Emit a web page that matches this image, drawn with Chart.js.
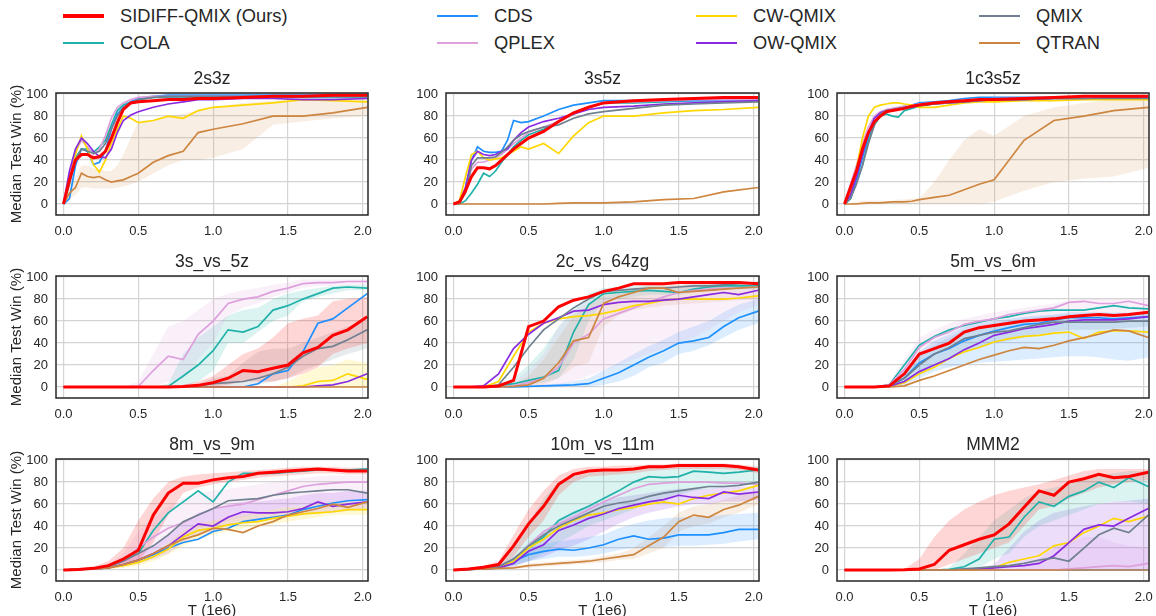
<!DOCTYPE html>
<html>
<head>
<meta charset="utf-8">
<title>Median Test Win</title>
<script src="https://cdn.jsdelivr.net/npm/chart.js@4.4.1/dist/chart.umd.min.js"></script>
<style>
  html, body { margin: 0; padding: 0; overflow: hidden; background: #fff; }
  body { width: 1156px; height: 616px; position: relative; font-family: "Liberation Sans", Arial, sans-serif; color: #262626; }
  canvas { position: absolute; }
  .swatch { position: absolute; width: 41px; }
  .name { position: absolute; font-size: 18.3px; line-height: 22px; white-space: nowrap; }
</style>
</head>
<body>
<div id="legend"></div>
<div id="plots"></div>
<script>
/* SERIES AND AXES */
const seriesNames = ["SIDIFF-QMIX (Ours)", "COLA", "CDS", "QPLEX", "CW-QMIX", "OW-QMIX", "QMIX", "QTRAN"];
const seriesColors = ["#ff0000", "#20b2aa", "#1e90ff", "#dda0dd", "#ffd700", "#8a2be2", "#708090", "#cd853f"];
const xTicks = [0, 0.5, 1, 1.5, 2];
const yTicks = [0, 20, 40, 60, 80, 100];
// timesteps (1e6) for the top row and for the two lower rows
const tFast = [0, 0.04, 0.08, 0.12, 0.16, 0.2, 0.24, 0.28, 0.32, 0.36, 0.4, 0.45, 0.5, 0.6, 0.7, 0.8, 0.9, 1.0, 1.2, 1.4, 1.6, 1.8, 2.03];
const tSlow = [0, 0.1, 0.2, 0.3, 0.4, 0.5, 0.6, 0.7, 0.8, 0.9, 1.0, 1.1, 1.2, 1.3, 1.4, 1.5, 1.6, 1.7, 1.8, 1.9, 2.03];

/* MEDIAN TEST WIN, one row per series in seriesNames order */
const win_2s3z = [
  [0, 22, 40, 45, 45, 42, 43, 48, 60, 74, 86, 92, 93, 94, 95, 95, 96, 96, 97, 98, 98, 99, 99],
  [0, 22, 42, 50, 50, 47, 52, 58, 72, 85, 90, 93, 95, 97, 97, 97, 97, 97, 97, 97, 97, 97, 97],
  [0, 5, 35, 50, 48, 36, 38, 48, 68, 82, 88, 93, 96, 98, 99, 99, 99, 99, 99, 99, 99, 99, 99],
  [0, 25, 48, 58, 52, 45, 50, 62, 78, 88, 92, 95, 97, 98, 98, 98, 98, 98, 98, 98, 98, 98, 98],
  [0, 22, 45, 62, 50, 36, 29, 40, 55, 68, 80, 78, 74, 76, 80, 78, 85, 88, 90, 92, 95, 94, 93],
  [0, 30, 50, 60, 55, 48, 43, 42, 50, 65, 76, 81, 84, 88, 91, 93, 95, 95, 96, 96, 95, 95, 96],
  [0, 18, 40, 50, 48, 46, 48, 55, 68, 80, 88, 92, 95, 97, 98, 98, 98, 98, 98, 98, 98, 98, 98],
  [0, 10, 15, 28, 25, 24, 25, 22, 20, 21, 22, 25, 28, 38, 44, 48, 65, 68, 73, 80, 80, 83, 88]
];
const win_3s5z = [
  [0, 2, 12, 25, 33, 33, 32, 35, 40, 45, 50, 55, 60, 66, 75, 83, 88, 92, 94, 95, 96, 97, 97],
  [0, 0, 3, 10, 18, 28, 25, 30, 38, 45, 52, 58, 63, 68, 75, 82, 88, 92, 92, 93, 94, 94, 95],
  [0, 0, 15, 40, 52, 48, 47, 47, 48, 58, 76, 74, 75, 80, 86, 90, 92, 94, 94, 94, 94, 94, 94],
  [0, 2, 15, 32, 38, 38, 40, 42, 45, 50, 55, 60, 65, 70, 75, 82, 88, 92, 93, 94, 95, 95, 95],
  [0, 3, 25, 45, 48, 42, 40, 41, 42, 45, 48, 52, 50, 55, 46, 62, 74, 80, 80, 83, 85, 86, 88],
  [0, 1, 15, 40, 48, 45, 44, 45, 48, 50, 58, 65, 70, 75, 78, 82, 86, 88, 89, 91, 92, 93, 94],
  [0, 1, 10, 35, 42, 42, 42, 43, 47, 52, 58, 63, 66, 70, 72, 78, 82, 84, 87, 90, 91, 92, 93],
  [0, 0, 0, 0, 0, 0, 0, 0, 0, 0, 0, 0, 0, 0, 0.5, 1, 1, 1, 2, 4, 5, 11, 15]
];
const win_1c3s5z = [
  [0, 15, 30, 50, 65, 75, 80, 84, 85, 86, 87, 89, 90, 92, 93, 94, 95, 95, 96, 97, 98, 98, 98],
  [0, 5, 20, 35, 58, 72, 80, 82, 80, 79, 85, 87, 89, 91, 93, 94, 94, 95, 95, 96, 96, 96, 96],
  [0, 5, 22, 42, 62, 75, 82, 85, 86, 87, 88, 90, 92, 93, 94, 96, 97, 97, 97, 97, 97, 97, 97],
  [0, 18, 35, 55, 70, 80, 84, 86, 87, 88, 89, 90, 91, 92, 93, 94, 95, 96, 96, 97, 97, 97, 97],
  [0, 10, 32, 60, 80, 88, 90, 91, 92, 92, 91, 90, 88, 88, 90, 92, 93, 93, 94, 94, 95, 95, 95],
  [0, 8, 25, 45, 65, 78, 83, 85, 85, 86, 88, 88, 90, 91, 92, 93, 94, 95, 95, 96, 96, 97, 97],
  [0, 5, 18, 35, 55, 72, 82, 85, 86, 87, 88, 89, 90, 91, 92, 93, 94, 95, 95, 96, 96, 96, 96],
  [0, 0, 0, 0.5, 1, 1, 1, 1.5, 2, 2, 2, 2.5, 4, 6, 8, 13, 18, 22, 58, 76, 80, 85, 88]
];
const win_3s_vs_5z = [
  [0, 0, 0, 0, 0, 0, 0, 0, 0.5, 1.5, 4, 8, 15, 14, 17, 20, 31, 36, 47, 52, 64],
  [0, 0, 0, 0, 0, 0, 0, 0.5, 10, 20, 33, 52, 50, 55, 70, 74, 80, 85, 90, 91, 90],
  [0, 0, 0, 0, 0, 0, 0, 0, 0, 0, 0, 0, 0, 3, 12, 15, 32, 58, 62, 72, 85],
  [0, 0, 0, 0, 0, 0.5, 15, 28, 25, 48, 60, 76, 80, 82, 87, 90, 94, 95, 95, 96, 96],
  [0, 0, 0, 0, 0, 0, 0, 0, 0, 0, 0, 0, 0, 0, 0, 0, 1, 5, 6, 12, 7],
  [0, 0, 0, 0, 0, 0, 0, 0, 0, 0, 0, 0, 0, 0, 0, 0, 0, 1, 2, 5, 12],
  [0, 0, 0, 0, 0, 0, 0, 0, 0, 1, 3, 4, 5, 8, 12, 18, 28, 35, 37, 43, 52],
  [0, 0, 0, 0, 0, 0, 0, 0, 0, 0, 0, 0, 0, 0, 0, 0, 0, 0, 0, 0, 0]
];
const win_2c_vs_64zg = [
  [0, 0, 0, 1, 6, 55, 60, 73, 79, 82, 87, 90, 94, 94, 94, 95, 95, 95, 95, 95, 94],
  [0, 0, 0, 1, 3, 6, 9, 15, 50, 75, 85, 86, 87, 88, 87, 86, 89, 91, 92, 92, 92],
  [0, 0, 0, 0, 0, 0.5, 1, 1.5, 2, 3, 8, 13, 20, 27, 33, 40, 42, 45, 55, 63, 69],
  [0, 0, 0, 0, 1, 4, 8, 18, 40, 48, 62, 67, 72, 77, 82, 86, 88, 89, 90, 90, 91],
  [0, 0, 0, 5, 28, 50, 58, 62, 64, 65, 67, 70, 74, 76, 79, 80, 80, 80, 80, 81, 83],
  [0, 0, 1, 12, 35, 48, 58, 63, 69, 70, 75, 77, 78, 78, 79, 80, 82, 84, 86, 84, 88],
  [0, 0, 0, 2, 18, 36, 52, 62, 72, 80, 87, 88, 89, 90, 90, 91, 92, 92, 93, 94, 95],
  [0, 0, 0, 0, 0.5, 2, 8, 22, 42, 45, 76, 82, 86, 90, 90, 86, 87, 88, 89, 90, 91]
];
const win_5m_vs_6m = [
  [0, 0, 0, 1, 12, 30, 35, 40, 50, 54, 56, 58, 60, 61, 62, 64, 65, 66, 65, 66, 68],
  [0, 0, 0, 2, 20, 38, 46, 52, 56, 59, 62, 64, 67, 69, 70, 70, 70, 72, 74, 72, 71],
  [0, 0, 0, 1, 8, 22, 30, 35, 42, 47, 51, 54, 57, 58, 61, 63, 63, 63, 62, 63, 64],
  [0, 0, 0, 2, 16, 36, 45, 50, 57, 60, 62, 66, 68, 70, 72, 77, 78, 76, 76, 78, 74],
  [0, 0, 0, 0.5, 4, 12, 18, 26, 32, 36, 41, 44, 46, 47, 49, 50, 44, 50, 51, 51, 50],
  [0, 0, 0, 0.5, 5, 14, 20, 26, 34, 40, 47, 50, 53, 55, 57, 60, 61, 61, 61, 62, 64],
  [0, 0, 0, 1, 8, 20, 30, 36, 44, 47, 50, 51, 54, 57, 59, 59, 59, 59, 59, 60, 60],
  [0, 0, 0, 0, 1, 6, 10, 15, 20, 25, 29, 33, 36, 35, 38, 42, 45, 48, 52, 51, 45]
];
const win_8m_vs_9m = [
  [0, 0.5, 1.5, 4, 10, 18, 50, 70, 79, 79, 82, 84, 85, 88, 89, 90, 91, 92, 91, 90, 90],
  [0, 0.5, 1.5, 4, 10, 15, 36, 52, 62, 72, 62, 80, 88, 88, 88, 89, 90, 91, 91, 91, 92],
  [0, 0.5, 1, 2, 5, 9, 14, 20, 25, 28, 35, 38, 44, 46, 48, 50, 55, 58, 61, 63, 64],
  [0, 0.5, 1, 3, 8, 20, 30, 38, 43, 50, 56, 58, 60, 64, 68, 72, 76, 78, 79, 80, 80],
  [0, 0.5, 1, 2, 4, 7, 12, 19, 30, 36, 38, 41, 43, 44, 47, 49, 51, 52, 53, 55, 55],
  [0, 0.5, 1, 2, 5, 9, 15, 22, 32, 42, 40, 48, 53, 52, 52, 53, 56, 62, 58, 60, 62],
  [0, 0.5, 1, 3, 8, 15, 22, 32, 44, 50, 56, 63, 64, 65, 68, 70, 71, 72, 73, 73, 70],
  [0, 0.5, 1, 2, 5, 9, 15, 22, 28, 32, 38, 37, 34, 40, 44, 50, 53, 56, 60, 57, 62]
];
const win_10m_vs_11m = [
  [0, 1, 2.5, 5, 22, 42, 58, 78, 87, 90, 91, 91, 92, 94, 94, 95, 95, 95, 95, 94, 91],
  [0, 0.5, 1.5, 3, 10, 20, 30, 45, 52, 58, 65, 72, 80, 85, 84, 85, 90, 89, 88, 89, 91],
  [0, 0.5, 1, 2, 8, 14, 17, 19, 18, 20, 23, 28, 31, 28, 29, 32, 32, 32, 34, 37, 37],
  [0, 0.5, 1.5, 3, 10, 22, 35, 42, 48, 55, 62, 68, 74, 78, 79, 80, 80, 80, 79, 79, 78],
  [0, 0.5, 1, 2, 8, 20, 28, 38, 45, 50, 52, 55, 57, 60, 62, 60, 65, 68, 70, 72, 77],
  [0, 0.5, 1, 2, 6, 17, 23, 36, 41, 47, 51, 56, 59, 62, 64, 68, 66, 65, 71, 69, 71],
  [0, 0.5, 1.5, 3, 10, 22, 32, 40, 46, 52, 58, 61, 63, 67, 70, 72, 74, 76, 76, 77, 80],
  [0, 0.5, 1, 1.5, 2, 4, 5, 6, 7, 8, 10, 12, 14, 22, 30, 44, 50, 48, 55, 59, 67]
];
const win_MMM2 = [
  [0, 0, 0, 0, 0.2, 1, 5, 18, 23, 28, 32, 42, 57, 72, 68, 80, 83, 87, 84, 85, 89],
  [0, 0, 0, 0, 0, 0, 0, 0.5, 3, 10, 28, 30, 48, 62, 58, 67, 72, 80, 75, 84, 76],
  [0, 0, 0, 0, 0, 0, 0, 0, 0, 0, 0, 0, 0, 0, 0, 0, 0, 0, 0, 0, 0],
  [0, 0, 0, 0, 0, 0, 0, 0, 0, 0, 0, 0, 0, 0, 0, 1, 2, 3, 4, 3, 6],
  [0, 0, 0, 0, 0, 0, 0, 0, 0, 0.5, 2, 7, 10, 13, 22, 25, 34, 40, 47, 44, 49],
  [0, 0, 0, 0, 0, 0, 0, 0, 0.5, 1, 2, 3, 4, 6, 13, 25, 37, 41, 40, 47, 56],
  [0, 0, 0, 0, 0, 0, 0, 0, 1, 2, 3, 4, 6, 9, 11, 8, 20, 32, 38, 34, 50],
  [0, 0, 0, 0, 0, 0, 0, 0, 0, 0, 0, 0, 0, 0, 0, 0, 0, 0, 0, 0, 0]
];

/* SHADED SPREAD (lower / upper edges) */
const lo_2s3z_qtran = [0, 5, 8, 15, 15, 14, 14, 14, 14, 15, 16, 18, 20, 28, 35, 40, 40, 42, 50, 72, 75, 78, 80];
const hi_2s3z_qtran = [0, 15, 25, 35, 35, 32, 32, 30, 30, 35, 45, 60, 75, 75, 80, 82, 85, 88, 92, 94, 95, 95, 96];
const lo_1c3s5z_qtran = [0, 0, 0, 0, 0, 0, 0, 0, 0, 0, 0, 0, 0, 0, 0, 0, 0, 2, 12, 20, 23, 25, 33];
const hi_1c3s5z_qtran = [0, 1, 2, 3, 3, 3, 3, 3, 3, 4, 4, 5, 5, 20, 40, 58, 68, 62, 80, 88, 92, 95, 97];

const lo_3s_vs_5z_qplex = [0, 0, 0, 0, 0, 0, 0, 5, 8, 25, 40, 65, 72, 76, 82, 86, 90, 92, 92, 93, 93];
const hi_3s_vs_5z_qplex = [0, 0, 0, 0, 0, 5, 30, 55, 60, 70, 80, 85, 88, 90, 93, 95, 98, 98, 98, 98, 98];
const lo_3s_vs_5z_cola = [0, 0, 0, 0, 0, 0, 0, 0, 0, 5, 15, 40, 40, 50, 60, 65, 78, 82, 85, 88, 88];
const hi_3s_vs_5z_cola = [0, 0, 0, 0, 0, 0, 0, 3, 30, 45, 55, 65, 70, 72, 80, 85, 88, 90, 92, 93, 93];
const lo_3s_vs_5z_sidiff = [0, 0, 0, 0, 0, 0, 0, 0, 0, 0, 0, 2, 5, 5, 5, 8, 12, 18, 30, 35, 40];
const hi_3s_vs_5z_sidiff = [0, 0, 0, 0, 0, 0, 0, 0, 2, 5, 10, 20, 30, 35, 45, 58, 62, 65, 78, 80, 82];
const lo_3s_vs_5z_qmix = [0, 0, 0, 0, 0, 0, 0, 0, 0, 0, 0, 0, 0, 2, 5, 8, 15, 20, 25, 30, 35];
const hi_3s_vs_5z_qmix = [0, 0, 0, 0, 0, 0, 0, 0, 0, 3, 8, 10, 22, 32, 35, 35, 40, 45, 50, 55, 60];
const lo_3s_vs_5z_cw = [0, 0, 0, 0, 0, 0, 0, 0, 0, 0, 0, 0, 0, 0, 0, 0, 0, 0, 0, 0, 0];
const hi_3s_vs_5z_cw = [0, 0, 0, 0, 0, 0, 0, 0, 0, 0, 0, 0, 0, 0, 0, 5, 12, 18, 20, 25, 22];

const lo_2c_vs_64zg_qplex = [0, 0, 0, 0, 0, 0, 0, 2, 5, 10, 15, 20, 25, 30, 35, 40, 45, 52, 60, 68, 75];
const hi_2c_vs_64zg_qplex = [0, 0, 0, 0, 5, 15, 30, 55, 70, 78, 82, 85, 87, 90, 92, 93, 94, 95, 95, 95, 95];
const lo_2c_vs_64zg_cds = [0, 0, 0, 0, 0, 0, 0, 0, 0, 0, 2, 5, 10, 18, 22, 30, 33, 38, 45, 52, 58];
const hi_2c_vs_64zg_cds = [0, 0, 0, 0, 0, 0, 2, 3, 5, 8, 15, 22, 30, 37, 43, 50, 55, 60, 68, 75, 80];
const lo_2c_vs_64zg_qtran = [0, 0, 0, 0, 0, 0, 2, 8, 18, 22, 55, 65, 70, 72, 74, 75, 76, 77, 78, 79, 80];
const hi_2c_vs_64zg_qtran = [0, 0, 0, 0, 2, 10, 25, 45, 65, 75, 85, 88, 90, 92, 93, 93, 94, 94, 95, 95, 95];
const lo_2c_vs_64zg_cola = [0, 0, 0, 0, 0, 2, 4, 8, 25, 60, 78, 80, 82, 84, 84, 84, 86, 88, 89, 89, 89];
const hi_2c_vs_64zg_cola = [0, 0, 0, 2, 8, 20, 35, 55, 70, 85, 90, 91, 92, 93, 92, 92, 93, 94, 95, 95, 95];

const lo_5m_vs_6m_cds = [0, 0, 0, 0, 2, 8, 14, 18, 20, 22, 23, 24, 25, 26, 27, 28, 28, 27, 25, 24, 27];
const hi_5m_vs_6m_cds = [0, 0, 0, 2, 14, 32, 42, 48, 55, 58, 60, 62, 64, 65, 66, 68, 68, 68, 68, 68, 68];
const lo_5m_vs_6m_qplex = [0, 0, 0, 0, 8, 25, 35, 42, 48, 52, 55, 58, 60, 62, 64, 66, 67, 67, 68, 68, 68];
const hi_5m_vs_6m_qplex = [0, 0, 0, 4, 25, 45, 52, 58, 62, 65, 68, 70, 72, 74, 76, 79, 80, 80, 80, 80, 80];
const lo_5m_vs_6m_qmix = [0, 0, 0, 0, 3, 12, 20, 26, 32, 36, 40, 42, 45, 48, 50, 52, 52, 52, 53, 54, 55];
const hi_5m_vs_6m_qmix = [0, 0, 0, 3, 15, 30, 38, 45, 52, 55, 58, 60, 62, 64, 65, 66, 67, 67, 67, 67, 67];

const lo_8m_vs_9m_sidiff = [0, 0, 0.5, 2, 5, 8, 25, 50, 70, 75, 78, 80, 82, 84, 85, 86, 87, 88, 88, 87, 87];
const hi_8m_vs_9m_sidiff = [0, 1, 3, 8, 20, 45, 65, 80, 85, 87, 88, 89, 90, 91, 92, 93, 94, 94, 94, 93, 93];
const lo_8m_vs_9m_qplex = [0, 0, 0.5, 2, 5, 10, 18, 25, 32, 38, 42, 45, 48, 52, 55, 58, 60, 61, 62, 63, 65];
const hi_8m_vs_9m_qplex = [0, 1, 2, 5, 15, 35, 48, 58, 65, 70, 72, 74, 76, 78, 80, 82, 84, 85, 86, 86, 86];
const lo_8m_vs_9m_cw = [0, 0, 0.5, 1, 2, 4, 8, 14, 22, 28, 32, 35, 38, 40, 42, 44, 46, 48, 50, 50, 50];
const hi_8m_vs_9m_cw = [0, 1, 2, 3, 6, 10, 16, 25, 36, 42, 45, 48, 50, 52, 55, 57, 58, 60, 62, 62, 62];
const lo_8m_vs_9m_ow = [0, 0, 0.5, 1, 3, 6, 10, 15, 25, 32, 35, 40, 45, 45, 46, 48, 50, 52, 52, 54, 56];
const hi_8m_vs_9m_ow = [0, 1, 2, 4, 8, 14, 22, 32, 42, 52, 55, 60, 62, 62, 64, 65, 68, 70, 70, 72, 72];

const lo_10m_vs_11m_sidiff = [0, 0.5, 1.5, 3, 12, 30, 45, 68, 80, 85, 86, 87, 88, 90, 91, 92, 92, 92, 92, 91, 88];
const hi_10m_vs_11m_sidiff = [0, 2, 4, 8, 32, 55, 72, 86, 92, 94, 94, 95, 95, 96, 96, 97, 97, 97, 97, 96, 94];
const lo_10m_vs_11m_cola = [0, 0, 0.5, 1, 4, 8, 15, 25, 32, 40, 45, 50, 55, 62, 65, 68, 72, 74, 75, 76, 78];
const hi_10m_vs_11m_cola = [0, 1, 3, 6, 20, 42, 65, 80, 85, 88, 90, 91, 92, 93, 93, 93, 94, 94, 94, 94, 94];
const lo_10m_vs_11m_cds = [0, 0, 0.5, 1, 4, 8, 10, 12, 12, 13, 15, 18, 20, 20, 21, 22, 22, 23, 24, 26, 28];
const hi_10m_vs_11m_cds = [0, 1, 2, 4, 12, 20, 24, 26, 28, 30, 32, 38, 42, 45, 47, 48, 48, 49, 50, 51, 52];
const lo_10m_vs_11m_ow = [0, 0, 0.5, 1, 3, 8, 12, 18, 22, 28, 35, 42, 48, 52, 55, 58, 60, 60, 62, 62, 64];
const hi_10m_vs_11m_ow = [0, 1, 2, 4, 10, 25, 35, 45, 52, 58, 62, 66, 68, 70, 72, 74, 74, 74, 76, 76, 76];
const lo_10m_vs_11m_qtran = [0, 0, 0.5, 1, 1, 2, 3, 4, 5, 6, 7, 9, 10, 15, 20, 35, 40, 42, 48, 52, 60];
const hi_10m_vs_11m_qtran = [0, 1, 1.5, 2, 3, 6, 7, 8, 9, 10, 13, 15, 20, 30, 40, 52, 58, 60, 64, 68, 72];

const lo_MMM2_sidiff = [0, 0, 0, 0, 0, 0, 0, 5, 10, 15, 20, 25, 40, 55, 58, 65, 70, 75, 78, 80, 82];
const hi_MMM2_sidiff = [0, 0, 0, 0, 1, 10, 30, 45, 55, 62, 68, 72, 75, 78, 82, 86, 90, 92, 92, 92, 92];
const lo_MMM2_cola = [0, 0, 0, 0, 0, 0, 0, 0, 0, 2, 10, 15, 30, 40, 45, 50, 55, 60, 62, 62, 60];
const hi_MMM2_cola = [0, 0, 0, 0, 0, 0, 0, 2, 15, 30, 45, 55, 65, 72, 75, 78, 82, 86, 88, 90, 90];
const lo_MMM2_ow = [0, 0, 0, 0, 0, 0, 0, 0, 0, 0, 0, 0, 0, 0, 0, 0, 0, 0, 0, 0, 0];
const hi_MMM2_ow = [0, 0, 0, 0, 0, 0, 0, 0, 0, 2, 5, 20, 35, 45, 52, 55, 58, 60, 62, 63, 65];
const lo_MMM2_qplex = [0, 0, 0, 0, 0, 0, 0, 0, 0, 0, 0, 0, 0, 0, 0, 0, 0, 0, 0, 0, 0];
const hi_MMM2_qplex = [0, 0, 0, 0, 0, 0, 0, 0, 0, 0, 0, 0, 3, 10, 20, 25, 30, 30, 25, 22, 20];

/* PANELS, row by row */
const panels = [
  { title: "2s3z", t: tFast, win: win_2s3z, bands: [[7, lo_2s3z_qtran, hi_2s3z_qtran]] },
  { title: "3s5z", t: tFast, win: win_3s5z, bands: [] },
  { title: "1c3s5z", t: tFast, win: win_1c3s5z, bands: [[7, lo_1c3s5z_qtran, hi_1c3s5z_qtran]] },
  { title: "3s_vs_5z", t: tSlow, win: win_3s_vs_5z, bands: [
    [3, lo_3s_vs_5z_qplex, hi_3s_vs_5z_qplex], [1, lo_3s_vs_5z_cola, hi_3s_vs_5z_cola],
    [0, lo_3s_vs_5z_sidiff, hi_3s_vs_5z_sidiff], [6, lo_3s_vs_5z_qmix, hi_3s_vs_5z_qmix],
    [4, lo_3s_vs_5z_cw, hi_3s_vs_5z_cw]] },
  { title: "2c_vs_64zg", t: tSlow, win: win_2c_vs_64zg, bands: [
    [3, lo_2c_vs_64zg_qplex, hi_2c_vs_64zg_qplex], [2, lo_2c_vs_64zg_cds, hi_2c_vs_64zg_cds],
    [7, lo_2c_vs_64zg_qtran, hi_2c_vs_64zg_qtran], [1, lo_2c_vs_64zg_cola, hi_2c_vs_64zg_cola]] },
  { title: "5m_vs_6m", t: tSlow, win: win_5m_vs_6m, bands: [
    [2, lo_5m_vs_6m_cds, hi_5m_vs_6m_cds], [3, lo_5m_vs_6m_qplex, hi_5m_vs_6m_qplex],
    [6, lo_5m_vs_6m_qmix, hi_5m_vs_6m_qmix]] },
  { title: "8m_vs_9m", t: tSlow, win: win_8m_vs_9m, bands: [
    [0, lo_8m_vs_9m_sidiff, hi_8m_vs_9m_sidiff], [3, lo_8m_vs_9m_qplex, hi_8m_vs_9m_qplex],
    [4, lo_8m_vs_9m_cw, hi_8m_vs_9m_cw], [5, lo_8m_vs_9m_ow, hi_8m_vs_9m_ow]] },
  { title: "10m_vs_11m", t: tSlow, win: win_10m_vs_11m, bands: [
    [0, lo_10m_vs_11m_sidiff, hi_10m_vs_11m_sidiff], [1, lo_10m_vs_11m_cola, hi_10m_vs_11m_cola],
    [2, lo_10m_vs_11m_cds, hi_10m_vs_11m_cds], [5, lo_10m_vs_11m_ow, hi_10m_vs_11m_ow],
    [7, lo_10m_vs_11m_qtran, hi_10m_vs_11m_qtran]] },
  { title: "MMM2", t: tSlow, win: win_MMM2, bands: [
    [0, lo_MMM2_sidiff, hi_MMM2_sidiff], [1, lo_MMM2_cola, hi_MMM2_cola],
    [5, lo_MMM2_ow, hi_MMM2_ow], [3, lo_MMM2_qplex, hi_MMM2_qplex]] }
];

/* LAYOUT (pixels) */
const FONT = '"Liberation Sans", Arial, sans-serif';
const INK = "#262626";
const plotLeft = [56, 446, 837];
const plotWidth = [312, 313, 312];
const plotTop = [93, 276, 459];
const plotHeight = 122;
const padTop = 28, padRight = 14;
const legendX = [63, 437, 696, 979];
const legendY = [16, 43];

Chart.defaults.font.family = FONT;
Chart.defaults.color = INK;

function rgba(hex, a) {
  const n = parseInt(hex.slice(1), 16);
  return `rgba(${(n >> 16) & 255}, ${(n >> 8) & 255}, ${n & 255}, ${a})`;
}
function points(t, v) {
  return t.map((x, i) => ({ x: x, y: v[i] }));
}

/* LEGEND */
const legend = document.getElementById("legend");
seriesNames.forEach((name, s) => {
  const col = Math.floor(s / 2), row = s % 2;
  const w = s === 0 ? 3.2 : 2;
  const sw = document.createElement("div");
  sw.className = "swatch";
  sw.style.left = legendX[col] + "px";
  sw.style.top = (legendY[row] - w / 2) + "px";
  sw.style.height = w + "px";
  sw.style.background = seriesColors[s];
  const tx = document.createElement("div");
  tx.className = "name";
  tx.style.left = (legendX[col] + 57) + "px";
  tx.style.top = (legendY[row] - 11) + "px";
  tx.textContent = name;
  legend.appendChild(sw);
  legend.appendChild(tx);
});

/* FRAME AROUND EACH PLOT AREA */
const framePlugin = {
  id: "frame",
  afterDraw(chart) {
    const { ctx, chartArea: a } = chart;
    ctx.save();
    ctx.strokeStyle = INK;
    ctx.lineWidth = 1.5;
    ctx.strokeRect(a.left, a.top, a.right - a.left, a.bottom - a.top);
    ctx.restore();
  }
};

/* CHARTS */
const holder = document.getElementById("plots");
panels.forEach((p, idx) => {
  const col = idx % 3, row = Math.floor(idx / 3);
  const padLeft = col === 0 ? 56 : 40;
  const padBottom = row === 2 ? 45 : 28;
  const canvas = document.createElement("canvas");
  canvas.width = padLeft + plotWidth[col] + padRight;
  canvas.height = padTop + plotHeight + padBottom;
  canvas.style.left = (plotLeft[col] - padLeft) + "px";
  canvas.style.top = (plotTop[row] - padTop) + "px";
  holder.appendChild(canvas);

  const datasets = [];
  p.bands.forEach(([s, lo, hi]) => {
    datasets.push({ data: points(p.t, lo), borderColor: "rgba(0,0,0,0)", borderWidth: 0, pointRadius: 0, fill: false, order: 50 });
    datasets.push({ data: points(p.t, hi), borderColor: "rgba(0,0,0,0)", borderWidth: 0, pointRadius: 0,
      fill: "-1", backgroundColor: rgba(seriesColors[s], s === 7 ? 0.14 : 0.16), order: 50 });
  });
  p.win.forEach((vals, s) => {
    datasets.push({
      label: seriesNames[s],
      data: points(p.t, vals),
      borderColor: seriesColors[s],
      borderWidth: s === 0 ? 3 : 1.7,
      pointRadius: 0,
      tension: 0,
      fill: false,
      order: s === 0 ? 0 : 9 - s
    });
  });

  new Chart(canvas, {
    type: "line",
    data: { datasets: datasets },
    options: {
      responsive: false,
      animation: false,
      events: [],
      layout: { padding: { left: 0, right: padRight, top: 0, bottom: 0 } },
      plugins: {
        legend: { display: false },
        tooltip: { enabled: false },
        filler: { drawTime: "beforeDatasetsDraw" },
        title: {
          display: true, text: p.title, fullSize: false, color: INK,
          font: { size: 17.5, weight: "normal" }, padding: { top: 4, bottom: 3 }
        }
      },
      scales: {
        x: {
          type: "linear", min: -0.05, max: 2.035,
          afterBuildTicks: (s) => { s.ticks = xTicks.map((v) => ({ value: v })); },
          afterFit: (s) => { s.height = padBottom; },
          grid: { color: "#d4d4d4", lineWidth: 1.2, drawTicks: false },
          border: { display: false },
          ticks: { padding: 9, color: INK, font: { size: 13 }, maxRotation: 0, autoSkip: false,
            callback: (v) => Number(v).toFixed(1) },
          title: { display: row === 2, text: "T (1e6)", color: INK, font: { size: 15 }, padding: { top: 0, bottom: 6 } }
        },
        y: {
          type: "linear", min: -10, max: 101,
          afterBuildTicks: (s) => { s.ticks = yTicks.map((v) => ({ value: v })); },
          afterFit: (s) => { s.width = padLeft; },
          grid: { color: "#d4d4d4", lineWidth: 1.2, drawTicks: false },
          border: { display: false },
          ticks: { padding: 8, color: INK, font: { size: 13 }, callback: (v) => String(v) },
          title: { display: col === 0, text: "Median Test Win (%)", color: INK, font: { size: 15 }, padding: { top: 8, bottom: 0 } }
        }
      }
    },
    plugins: [framePlugin]
  });
});
</script>
</body>
</html>
